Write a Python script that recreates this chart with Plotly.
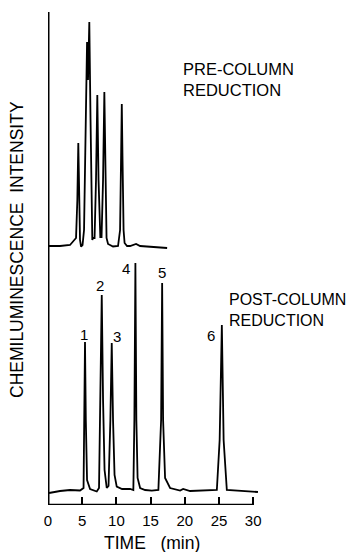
import plotly.graph_objects as go

# Pre-column reduction trace (time in min, intensity in arbitrary units)
pre_time = [0.15, 1.76, 3.22, 3.66, 4.10, 4.29, 4.43, 4.58, 4.68, 4.83, 5.05, 5.27, 5.49,
            5.71, 5.85, 6.04, 6.22, 6.37, 6.48, 6.59, 6.81, 7.02, 7.21, 7.39, 7.54, 7.65,
            7.83, 8.05, 8.24, 8.42, 8.56, 8.78, 9.51, 10.24, 10.54, 10.68, 10.79, 10.90,
            11.05, 11.20, 11.56, 12.0, 12.88, 13.47, 14.93, 17.42]
pre_int = [259, 259, 260, 263, 267, 305, 362, 305, 265, 258.5, 260, 275, 355,
           463, 425, 483, 385, 285, 265, 267, 267, 325, 410, 325, 270, 268,
           268, 325, 413, 325, 267, 261, 258.5, 259, 275, 345, 401, 345,
           275, 262, 259, 259, 261, 259, 258, 257]

# Post-column reduction trace
post_time = [0.15, 1.76, 3.22, 4.68, 5.20, 5.31, 5.41, 5.53, 5.71, 6.15, 7.13, 7.46, 7.65,
             7.86, 8.05, 8.27, 8.59, 8.85, 9.12, 9.32, 9.51, 9.73, 10.05, 10.83, 12.0,
             12.48, 12.63, 12.78, 12.92, 13.10, 13.47, 14.20, 15.18, 16.14, 16.54, 16.69,
             16.83, 17.12, 17.85, 19.32, 19.76, 20.78, 24.69, 25.10, 25.42, 25.68, 26.15,
             28.1, 30.7]
post_int = [12, 14, 15, 14.5, 17, 85, 163, 85, 25, 16, 13.5, 17, 105,
            210, 105, 35, 17, 19, 85, 162, 85, 30, 18.3, 16, 16,
            15, 85, 242, 85, 27, 17, 15, 14.3, 15, 85, 222,
            85, 27, 17, 14.5, 16, 14, 15, 65, 180, 65, 15,
            14, 13]

# Peak labels
peak_names = ["1", "2", "3", "4", "5", "6"]
peak_label_time = [5.26, 7.6, 10.1, 11.4, 16.67, 23.83]
peak_label_int = [171, 220, 169, 237, 233, 170]

tick_vals = [0, 5, 10, 15, 20, 25, 30]
tick_text = ["0", "5", "10", "15", "20", "25", "30"]

FONT = "Liberation Sans, Arial, sans-serif"

fig = go.Figure()
fig.add_trace(go.Scatter(x=pre_time, y=pre_int, mode="lines",
                         line=dict(color="black", width=1.8), showlegend=False))
fig.add_trace(go.Scatter(x=post_time, y=post_int, mode="lines",
                         line=dict(color="black", width=1.8), showlegend=False))

for name, t, v in zip(peak_names, peak_label_time, peak_label_int):
    fig.add_annotation(x=t, y=v, xref="x", yref="y", text=name, showarrow=False,
                       font=dict(size=15, color="black", family=FONT))

# axes lines
fig.add_shape(type="line", xref="x", yref="y", x0=0, x1=30, y0=0, y1=0,
              line=dict(color="black", width=2.5))
fig.add_shape(type="line", xref="x", yref="paper", x0=0, x1=0, y0=0, y1=1,
              line=dict(color="black", width=3))

fig.add_annotation(xref="paper", yref="paper", x=(181 - 48) / 212, y=(505 - 58) / 493,
                   text="PRE-COLUMN<br>REDUCTION", showarrow=False, align="left",
                   xanchor="left", yanchor="top",
                   font=dict(size=16.5, color="black", family=FONT))
fig.add_annotation(xref="paper", yref="paper", x=(227 - 48) / 212, y=(505 - 289) / 493,
                   text="POST-COLUMN<br>REDUCTION", showarrow=False, align="left",
                   xanchor="left", yanchor="top",
                   font=dict(size=16, color="black", family=FONT))
fig.add_annotation(xref="paper", yref="paper", x=(17 - 48) / 212, y=(505 - 250) / 493,
                   text="CHEMILUMINESCENCE  INTENSITY", textangle=-90, showarrow=False,
                   xanchor="center", yanchor="middle",
                   font=dict(size=17.5, color="black", family=FONT))
fig.add_annotation(xref="paper", yref="paper", x=(152 - 48) / 212, y=(505 - 543) / 493,
                   text="TIME   (min)", showarrow=False,
                   xanchor="center", yanchor="middle",
                   font=dict(size=17.5, color="black", family=FONT))

fig.update_layout(
    width=352, height=552,
    margin=dict(l=48, r=92, t=12, b=47, pad=0),
    paper_bgcolor="white", plot_bgcolor="white",
    xaxis=dict(range=[0, 31], showgrid=False, zeroline=False, showline=False,
               tickmode="array", tickvals=tick_vals, ticktext=tick_text,
               ticks="inside", ticklen=8, tickwidth=1.5, tickcolor="black",
               ticklabelstandoff=5,
               tickfont=dict(size=15, color="black", family=FONT)),
    yaxis=dict(range=[0, 493], showgrid=False, zeroline=False, showline=False,
               showticklabels=False, ticks=""),
)

fig.write_html("out.html")
